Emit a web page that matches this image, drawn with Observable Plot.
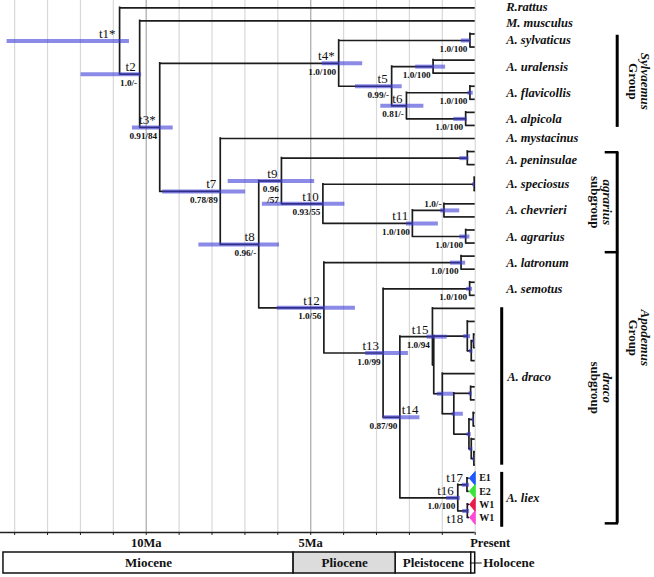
<!DOCTYPE html>
<html><head><meta charset="utf-8">
<script src="https://cdn.jsdelivr.net/npm/d3@7"></script>
<script src="https://cdn.jsdelivr.net/npm/@observablehq/plot@0.6"></script>
<style>
body{margin:0;background:#fff;}
#chart svg{display:block;}
</style></head><body><div id="chart"></div>
<script>
// ---------------- DATA ----------------
const speciesNames = ["R.rattus","M. musculus","A. sylvaticus","A. uralensis","A. flavicollis","A. alpicola","A. mystacinus","A. peninsulae","A. speciosus","A. chevrieri","A. agrarius","A. latronum","A. semotus","A. draco","A. liex"];
const speciesTipCounts = [1,1,2,2,2,2,1,2,2,2,2,2,2,13,4];

const nodeIds =     ["t1","t2","t3","t4","syl","t5","ura","t6","fla","alp","t7","t8","t9","pen","t10","spe","t11","che","agr","t12","lat","t13","sem","t14","t15","dB","dE","dE2","dE3","dC","dD","dF","dG","dG1","dG2","dG3","t16","t17","t18"];
const nodeParents = [null,"t1","t2","t3","t4","t4","t5","t5","t6","t6","t3","t7","t8","t9","t9","t10","t10","t11","t11","t8","t12","t12","t13","t13","t14","t15","dB","dE","dE2","dB","dC","dD","dD","dG","dG","dG2","t14","t16","t16"];
const nodeAges =    [10.81,10.20,9.59,4.15,0.16,2.54,1.28,2.09,0.16,0.29,7.75,6.58,5.89,0.24,4.63,0.03,1.91,0.95,0.29,4.60,0.43,2.80,0.17,2.29,1.30,1.26,0.24,0.12,0.05,1.00,0.65,0.14,0.19,0.06,0.12,0.04,0.53,0.25,0.24];
const hpdUpper =    [14.23,11.98,10.42,4.65,0.42,3.64,1.81,2.87,0.22,0.65,9.50,8.40,7.51,0.47,6.47,0.08,2.09,1.05,0.47,6.02,0.75,3.33,0.26,2.80,1.46,null,0.35,0.17,0.07,1.15,0.70,0.19,0.25,0.09,0.17,0.07,0.87,0.39,0.38];
const hpdLower =    [10.51,10.14,9.18,3.42,0.12,2.22,0.90,1.56,0.06,0.24,6.98,5.95,4.88,0.19,3.96,0.01,1.12,0.47,0.16,3.64,0.29,2.03,0.08,1.68,0.85,null,0.14,0.07,0.02,0.65,0.36,0.09,0.12,0.03,0.07,0.02,0.45,0.17,0.17];

// parent node of each tip, in top-to-bottom order
const tipParents = ["t1","t2","syl","syl","ura","ura","fla","fla","alp","alp","t7","pen","pen","spe","spe","che","che","agr","agr","lat","lat","sem","sem",
  "t15","dE","dE3","dE3","dE2","dC","dF","dF","dG1","dG1","dG2","dG3","dG3","t17","t17","t18","t18"];

// collapsed A. liex clades (last four tips)
const cladeLabels = ["E1","E2","W1","W1"];
const cladeColors = ["#1f56ff","#35e635","#ea1a4a","#ff48d8"];
const cladeCrownAges = [0.18,0.18,0.17,0.17];

const nameNodes = ["t1","t2","t3","t4","t5","t6","t7","t8","t9","t10","t11","t12","t13","t14","t15","t16","t17","t18"];
const nameTexts = ["t1*","t2","t3*","t4*","t5","t6","t7","t8","t9","t10","t11","t12","t13","t14","t15","t16","t17","t18"];

const supportNodes = ["t2","t3","t4","syl","t5","ura","t6","fla","alp","t7","t8","t9","t10","t11","che","agr","t12","lat","sem","t13","t14","t15","t16"];
const supportTexts = ["1.0/-","0.91/84","1.0/100","1.0/100","0.99/-","1.0/100","0.81/-","1.0/100","1.0/100","0.78/89","0.96/-","0.96\n/57","0.93/55","1.0/100","1.0/-","1.0/100","1.0/56","1.0/100","1.0/100","1.0/99","0.87/90","1.0/94","1.0/100"];

const tickAges = [10, 5, 0];
const tickTexts = ["10Ma", "5Ma", "Present"];

const epochNames = ["Miocene","Pliocene","Pleistocene","Holocene"];
const epochStart = [14.34, 5.52, 2.42, 0.12];
const epochEnd =   [5.52, 2.42, 0.12, 0];

const groupNames = ["Sylvaemus","agrarius","Apodemus","draco"];
const groupSuffix = ["Group","subgroup","Group","subgroup"];
const groupFirst = ["A. sylvaticus","A. peninsulae","A. peninsulae","A. latronum"];
const groupLast  = ["A. alpicola","A. agrarius","A. liex","A. liex"];

// ---------------- LAYOUT ----------------
const W = 654, TREE_H = 550, AXIS_Y = 532;
const AGE_LEFT = 14.43, PRESENT_X = 474.7;
const ROW_TOP = -0.56, ROW_BOTTOM = 40.15;
const pxPerMa = PRESENT_X / AGE_LEFT;
const off = px => -px / pxPerMa;   // age value lying px to the right of Present
const SERIF = "Liberation Serif, Times New Roman, serif";
const LINE = "#1c1c1c";
const labelShift = {"R.rattus": -0.5, "M. musculus": 2.5, "A. draco": -10, "A. peninsulae": 2};

// species rows
let r = 0;
const species = speciesNames.map((name, i) => {
  const first = r; r += speciesTipCounts[i];
  return {name, first, last: r - 1, mid: (first + r - 1) / 2};
});
const sp = Object.fromEntries(species.map(s => [s.name, s]));

// tree
const nodes = nodeIds.map((id, i) => ({id, parent: nodeParents[i], age: nodeAges[i], hi: hpdUpper[i], lo: hpdLower[i], children: []}));
const byId = new Map(nodes.map(n => [n.id, n]));
const nClades = cladeLabels.length;
const tips = tipParents.map((p, i) => {
  const k = i - (tipParents.length - nClades);
  return {row: i, parent: p, isTip: true, clade: k >= 0 ? k : null, age: k >= 0 ? cladeCrownAges[k] : 0};
});
nodes.forEach(n => { if (n.parent) byId.get(n.parent).children.push(n); });
tips.forEach(t => byId.get(t.parent).children.push(t));
function rowOf(n) {
  if (n.isTip) return n.row;
  if (n.row != null) return n.row;
  const rs = n.children.map(rowOf);
  n.minC = d3.min(rs); n.maxC = d3.max(rs);
  return (n.row = (n.minC + n.maxC) / 2);
}
nodes.forEach(rowOf);

const hBranches = [...nodes.filter(n => n.parent), ...tips].map(n => ({x1: byId.get(n.parent).age, x2: n.age, y: n.row}));
const vBranches = nodes.map(n => ({x: n.age, y1: n.minC, y2: n.maxC}));
const hpd = nodes.filter(n => n.hi != null);

const cladeTris = tips.filter(t => t.clade != null).map(t => [
  {x: t.age, y: t.row}, {x: 0, y: t.row - 0.52}, {x: 0, y: t.row + 0.52}, {x: t.age, y: t.row}
]);

const names = nameNodes.map((id, i) => ({...byId.get(id), text: nameTexts[i]}));
const supports = supportNodes.map((id, i) => ({...byId.get(id), text: supportTexts[i]}));
const nameRight = new Set(["t14"]), nameBelow = new Set(["t18"]), supAbove = new Set(["che"]);

const groups = groupNames.map((g, i) => ({name: g, suffix: groupSuffix[i], y1: sp[groupFirst[i]].first, y2: sp[groupLast[i]].last}));
// bracket extents (rows)
const sylB = [groups[0].y1 + 0.1, groups[0].y2 + 0.15];
const agrB = [groups[1].y1 + 0.05, groups[1].y2 + 0.7];
const apoB = [groups[2].y1 + 0.05, groups[2].y2 + 0.45];
const groupLabelRows = [ (sylB[0]+sylB[1])/2, (agrB[0]+agrB[1])/2, (apoB[0]+apoB[1])/2, (agrB[1]+apoB[1])/2 ];

const drB = [sp["A. draco"].first - 0.05, sp["A. draco"].last];
const lxB = [sp["A. liex"].first - 0.45, sp["A. liex"].last + 0.75];

const textCommon = {fontFamily: SERIF, fill: "#111"};
const speciesText = {x: 0, y: "mid", text: "name", textAnchor: "start", dx: 31, fontSize: 12.5, fontWeight: "bold", fontStyle: "italic", ...textCommon};

const tree = Plot.plot({
  width: W, height: TREE_H,
  marginLeft: 0, marginRight: W - PRESENT_X, marginTop: 0, marginBottom: TREE_H - AXIS_Y,
  x: {domain: [AGE_LEFT, 0]},
  y: {domain: [ROW_TOP, ROW_BOTTOM], reverse: true, axis: null},
  style: {background: "white", overflow: "visible", fontFamily: SERIF},
  marks: [
    Plot.ruleX(d3.range(0, 15).filter(d => d % 5 !== 0 || d === 0), {stroke: "#d8d8d8", strokeWidth: 1.2}),
    Plot.ruleX([5, 10], {stroke: "#b4b4b4", strokeWidth: 1.4}),
    Plot.ruleY([ROW_BOTTOM], {x1: AGE_LEFT, x2: 0, stroke: "#222", strokeWidth: 1.6}),
    Plot.axisX({ticks: d3.range(0, 15), tickSize: 3, tickFormat: () => "", stroke: "#222"}),
    Plot.text(tickAges.map((a, i) => ({a, t: tickTexts[i]})).filter(d => d.a !== 0), {x: "a", y: ROW_BOTTOM, text: "t", lineAnchor: "top", dy: 6, fontSize: 12.5, fontWeight: "bold", ...textCommon}),
    Plot.text(tickAges.map((a, i) => ({a, t: tickTexts[i]})).filter(d => d.a === 0), {x: "a", y: ROW_BOTTOM, text: "t", lineAnchor: "top", dy: 6, dx: -5, textAnchor: "start", fontSize: 12.5, fontWeight: "bold", ...textCommon}),

    // branches
    Plot.ruleY(hBranches, {x1: "x1", x2: "x2", y: "y", stroke: LINE, strokeWidth: 1.7}),
    Plot.ruleX(vBranches, {x: "x", y1: "y1", y2: "y2", stroke: LINE, strokeWidth: 1.7, strokeLinecap: "square"}),
    ...cladeTris.map((pts, k) => Plot.line(pts, {x: "x", y: "y", fill: cladeColors[k], stroke: cladeColors[k], strokeWidth: 1})),

    // HPD bars
    Plot.ruleY(hpd, {x1: "hi", x2: "lo", y: "row", stroke: "#3e3ed7", strokeOpacity: 0.6, strokeWidth: 4}),

    // node names
    Plot.text(names.filter(d => !nameRight.has(d.id) && !nameBelow.has(d.id)), {x: "age", y: "row", text: "text", textAnchor: "end", lineAnchor: "bottom", dx: -4, dy: -3, fontSize: 13, ...textCommon}),
    Plot.text(names.filter(d => nameRight.has(d.id)), {x: "age", y: "row", text: "text", textAnchor: "start", lineAnchor: "bottom", dx: 2, dy: -3, fontSize: 13, ...textCommon}),
    Plot.text(names.filter(d => nameBelow.has(d.id)), {x: "age", y: "row", text: "text", textAnchor: "end", lineAnchor: "top", dx: -4, dy: 3, fontSize: 13, ...textCommon}),

    // support values
    Plot.text(supports.filter(d => !supAbove.has(d.id)), {x: "age", y: "row", text: "text", textAnchor: "end", lineAnchor: "top", dx: -2.5, dy: 4, fontSize: 9.2, fontWeight: "bold", lineHeight: 1.15, ...textCommon}),
    Plot.text(supports.filter(d => supAbove.has(d.id)), {x: "age", y: "row", text: "text", textAnchor: "end", lineAnchor: "bottom", dx: -2.5, dy: -3, fontSize: 9.2, fontWeight: "bold", ...textCommon}),

    // species labels
    Plot.text(species.filter(s => !(s.name in labelShift)), speciesText),
    ...Object.entries(labelShift).map(([n, dy]) => Plot.text(species.filter(s => s.name === n), {...speciesText, dy, dx: n === "A. draco" ? 32 : 31})),
    Plot.text(tips.filter(t => t.clade != null), {x: 0, y: "row", text: t => cladeLabels[t.clade], textAnchor: "start", dx: 4, fontSize: 10, fontWeight: "bold", ...textCommon}),

    // species brackets
    Plot.ruleX([drB, lxB], {x: off(26.5), y1: d => d[0], y2: d => d[1], stroke: "#000", strokeWidth: 3}),

    // group brackets
    Plot.ruleX([sylB, [agrB[0], apoB[1]]], {x: off(142), y1: d => d[0], y2: d => d[1], stroke: "#000", strokeWidth: 3}),
    Plot.ruleY([agrB[0], agrB[1], apoB[1]], {x1: off(130), x2: off(143.5), stroke: "#000", strokeWidth: 2.5}),

    // group labels (rotated)
    Plot.text([0, 2].map(i => ({t: groupNames[i], y: groupLabelRows[i]})), {x: 0, y: "y", text: "t", rotate: 90, dx: 170, fontSize: 13, fontWeight: "bold", fontStyle: "italic", ...textCommon}),
    Plot.text([0, 2].map(i => ({t: groupSuffix[i], y: groupLabelRows[i]})), {x: 0, y: "y", text: "t", rotate: 90, dx: 157.5, fontSize: 13, fontWeight: "bold", ...textCommon}),
    Plot.text([1, 3].map(i => ({t: groupNames[i], y: groupLabelRows[i]})), {x: 0, y: "y", text: "t", rotate: 90, dx: 131.5, fontSize: 13, fontWeight: "bold", fontStyle: "italic", ...textCommon}),
    Plot.text([1, 3].map(i => ({t: groupSuffix[i], y: groupLabelRows[i]})), {x: 0, y: "y", text: "t", rotate: 90, dx: 119.5, fontSize: 13, fontWeight: "bold", ...textCommon})
  ]
});

const epochs = epochNames.map((n, i) => ({name: n, start: epochStart[i], end: epochEnd[i], mid: (epochStart[i] + epochEnd[i]) / 2}));
const epochPlot = Plot.plot({
  width: W, height: 577 - TREE_H,
  marginLeft: 0, marginRight: W - PRESENT_X, marginTop: 2, marginBottom: 4,
  x: {domain: [AGE_LEFT, 0], axis: null},
  y: {domain: [0, 1], axis: null},
  style: {background: "white", overflow: "visible", fontFamily: SERIF},
  marks: [
    Plot.rect(epochs.filter(e => e.name !== "Pliocene"), {x1: "start", x2: "end", y1: 0, y2: 1, fill: "white", stroke: "#111", strokeWidth: 1.5}),
    Plot.rect(epochs.filter(e => e.name === "Pliocene"), {x1: "start", x2: "end", y1: 0, y2: 1, fill: "#dcdcdc", stroke: "#111", strokeWidth: 1.5}),
    Plot.text(epochs.filter(e => e.name !== "Holocene"), {x: "mid", y: 0.5, text: "name", fontSize: 13, fontWeight: "bold", ...textCommon}),
    Plot.ruleY([0.5], {x1: epochEnd[2] + 0.03, x2: off(7), stroke: "#111", strokeWidth: 1}),
    Plot.text(epochs.filter(e => e.name === "Holocene"), {x: 0, y: 0.5, text: "name", textAnchor: "start", dx: 8, fontSize: 13, fontWeight: "bold", ...textCommon})
  ]
});

const el = document.getElementById("chart");
el.appendChild(tree);
el.appendChild(epochPlot);
</script></body></html>
